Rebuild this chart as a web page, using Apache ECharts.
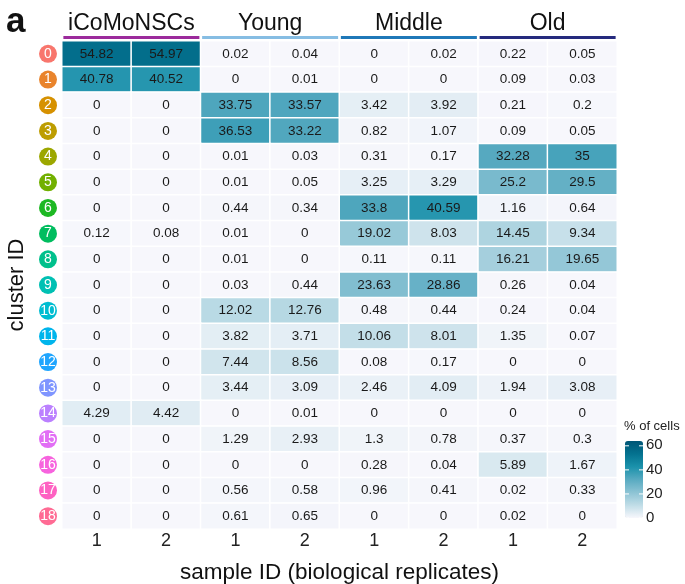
<!DOCTYPE html>
<html>
<head>
<meta charset="utf-8">
<script src="https://cdn.jsdelivr.net/npm/echarts@6/dist/echarts.min.js"></script>
<style>html,body{margin:0;padding:0;background:#fff}#c{width:685px;height:584px}</style>
</head>
<body>
<div id="c"></div>
<script>
const groups = ['iCoMoNSCs', 'Young', 'Middle', 'Old'];
const groupColors = ['#9c2a9c', '#86bde3', '#1f78b8', '#252a7e'];
const sampleIDs = ['1', '2', '1', '2', '1', '2', '1', '2'];
const clusters = ['0','1','2','3','4','5','6','7','8','9','10','11','12','13','14','15','16','17','18'];
const clusterColors = ['#F8766D','#E9842C','#D69100','#BD9D00','#9CA700','#72B000','#1DB823','#00BD5F','#00C08C','#00C0B3','#00BDD1','#00B5EC','#1FA5FE','#7F95FF','#BB80FF','#E26EF5','#F763DE','#FE62C2','#FF6B94'];
const values = [
  [54.82, 54.97, 0.02, 0.04, 0, 0.02, 0.22, 0.05],
  [40.78, 40.52, 0, 0.01, 0, 0, 0.09, 0.03],
  [0, 0, 33.75, 33.57, 3.42, 3.92, 0.21, 0.2],
  [0, 0, 36.53, 33.22, 0.82, 1.07, 0.09, 0.05],
  [0, 0, 0.01, 0.03, 0.31, 0.17, 32.28, 35],
  [0, 0, 0.01, 0.05, 3.25, 3.29, 25.2, 29.5],
  [0, 0, 0.44, 0.34, 33.8, 40.59, 1.16, 0.64],
  [0.12, 0.08, 0.01, 0, 19.02, 8.03, 14.45, 9.34],
  [0, 0, 0.01, 0, 0.11, 0.11, 16.21, 19.65],
  [0, 0, 0.03, 0.44, 23.63, 28.86, 0.26, 0.04],
  [0, 0, 12.02, 12.76, 0.48, 0.44, 0.24, 0.04],
  [0, 0, 3.82, 3.71, 10.06, 8.01, 1.35, 0.07],
  [0, 0, 7.44, 8.56, 0.08, 0.17, 0, 0],
  [0, 0, 3.44, 3.09, 2.46, 4.09, 1.94, 3.08],
  [4.29, 4.42, 0, 0.01, 0, 0, 0, 0],
  [0, 0, 1.29, 2.93, 1.3, 0.78, 0.37, 0.3],
  [0, 0, 0, 0, 0.28, 0.04, 5.89, 1.67],
  [0, 0, 0.56, 0.58, 0.96, 0.41, 0.02, 0.33],
  [0, 0, 0.61, 0.65, 0, 0, 0.02, 0]
];
const legendTicks = [0, 20, 40, 60];
const scaleMax = 64;

const font = '"Liberation Sans", Arial, Helvetica, sans-serif';
const sampleKeys = sampleIDs.map((s, i) => 'S' + i);
const data = [];
values.forEach((row, r) => row.forEach((v, c) => data.push([c, r, v])));

const rich = {};
clusterColors.forEach((col, i) => {
  rich['c' + i] = {backgroundColor: col, color: '#fff', width: 18, height: 18, borderRadius: 9,
    align: 'center', fontSize: 14, fontFamily: font, lineHeight: 18};
});
const topRich = {t: {fontSize: 23, color: '#111', fontFamily: font, lineHeight: 24, align: 'center'}};
groupColors.forEach((col, i) => {
  topRich['u' + i] = {backgroundColor: col, width: 136, height: 3, lineHeight: 3};
});

// legend bar geometry
const barLeft = 625, barTop = 441, barW = 18, barH = 77;
const graphics = [];
legendTicks.forEach(t => {
  const y = barTop + barH * (1 - t / scaleMax);
  graphics.push({type: 'text', left: barLeft + barW + 3, top: y - 8,
    style: {text: String(t), font: '15px ' + font, fill: '#222'}});
  graphics.push({type: 'line', shape: {x1: barLeft, y1: y, x2: barLeft + 4, y2: y}, style: {stroke: '#fff', lineWidth: 1}, z: 100});
  graphics.push({type: 'line', shape: {x1: barLeft + barW - 4, y1: y, x2: barLeft + barW, y2: y}, style: {stroke: '#fff', lineWidth: 1}, z: 100});
});
graphics.push({type: 'text', left: 624, top: 420, style: {text: '% of cells', font: '13px ' + font, fill: '#222'}});
graphics.push({type: 'text', left: 6, top: 5, style: {text: 'a', font: 'bold 35px ' + font, fill: '#111'}});

const chart = echarts.init(document.getElementById('c'));
chart.setOption({
  animation: false,
  backgroundColor: '#fff',
  grid: {left: 62, right: 68, top: 41, bottom: 55, containLabel: false, outerBoundsMode: 'none'},
  xAxis: [{
    type: 'category', data: sampleKeys, position: 'bottom',
    axisLine: {show: false}, axisTick: {show: false}, splitArea: {show: false},
    axisLabel: {formatter: (v, i) => sampleIDs[i], fontSize: 18, color: '#222', fontFamily: font, margin: 3},
    name: 'sample ID (biological replicates)', nameLocation: 'middle', nameGap: 32,
    nameTextStyle: {fontSize: 22.5, color: '#111', fontFamily: font}
  }, {
    type: 'category', data: groups, position: 'top',
    axisLine: {show: false}, axisTick: {show: false},
    axisLabel: {margin: 2, formatter: (v, i) => '{t|' + v + '}\n{u' + i + '|}', rich: topRich}
  }],
  yAxis: {
    type: 'category', data: clusters, inverse: true,
    axisLine: {show: false}, axisTick: {show: false},
    axisLabel: {margin: 5, formatter: (v, i) => '{c' + i + '|' + v + '}', rich: rich},
    name: 'cluster ID', nameLocation: 'middle', nameGap: 32,
    nameTextStyle: {fontSize: 22, color: '#111', fontFamily: font}
  },
  visualMap: {
    type: 'continuous', min: 0, max: scaleMax, calculable: false, hoverLink: false,
    left: barLeft, top: barTop, itemWidth: barW, itemHeight: barH, padding: 0,
    text: null, showLabel: false,
    inRange: {color: ['#f7f7fc', '#c0dde7', '#8cc3d4', '#58aac1', '#1a91ab', '#04728f', '#005676']}
  },
  graphic: graphics,
  series: [{
    type: 'heatmap', data: data,
    itemStyle: {borderColor: '#fff', borderWidth: 1.5},
    label: {show: true, formatter: p => String(p.value[2]), fontSize: 13.5, color: '#1a1a1a', fontFamily: font},
    emphasis: {disabled: true}
  }]
});
</script>
</body>
</html>
